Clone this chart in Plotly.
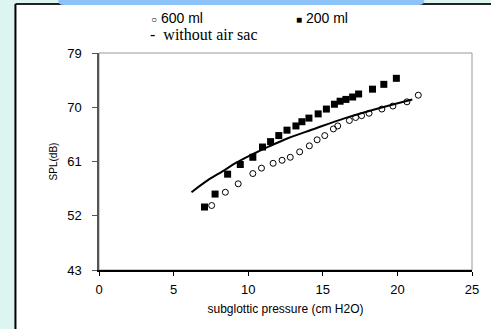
import plotly.graph_objects as go

# 600 ml (open circles)
x600 = [7.55, 8.47, 9.33, 10.31, 10.89, 11.67, 12.27, 12.82, 13.45, 14.1, 14.62,
        15.13, 15.71, 16.0, 16.78, 17.2, 17.6, 18.1, 18.96, 19.7, 20.64, 21.4]
y600 = [53.7, 55.9, 57.3, 59.0, 59.9, 60.7, 61.2, 61.7, 62.6, 63.6, 64.6,
        65.3, 66.4, 66.9, 67.8, 68.3, 68.6, 69.0, 69.7, 70.2, 70.9, 72.0]

# 200 ml (filled squares)
x200 = [7.07, 7.78, 8.62, 9.47, 10.31, 10.96, 11.5, 12.05, 12.6, 13.2, 13.6,
        14.07, 14.69, 15.24, 15.78, 16.16, 16.55, 17.0, 17.4, 18.33, 19.09, 19.93]
y200 = [53.45, 55.6, 58.9, 60.5, 61.7, 63.4, 64.3, 65.3, 66.2, 66.9, 67.6,
        68.2, 68.9, 69.7, 70.5, 71.0, 71.3, 71.7, 72.2, 73.0, 73.8, 74.8]

# without air sac (line)
xno = [6.2, 7.3, 8.3, 9.2, 10.3, 11.4, 12.7, 14.3, 16.5, 18.7, 21.0]
yno = [55.9, 57.9, 59.4, 60.8, 62.2, 63.5, 64.9, 66.3, 68.2, 69.8, 71.3]

xticks = [0, 5, 10, 15, 20, 25]
yticks = [43, 52, 61, 70, 79]

W, H = 491, 329
L, R, T, B = 99, 17, 53, 59
pw, ph = W - L - R, H - T - B


def px(x):
    return (x - L) / pw


def py(y):
    return (H - B - y) / ph


fig = go.Figure()
fig.add_trace(go.Scatter(x=xno, y=yno, mode="lines", line=dict(color="black", width=2, shape="spline"),
                         name="without air sac"))
fig.add_trace(go.Scatter(x=x600, y=y600, mode="markers",
                         marker=dict(symbol="circle-open", size=6, color="black", line=dict(width=1)),
                         name="600 ml"))
fig.add_trace(go.Scatter(x=x200, y=y200, mode="markers",
                         marker=dict(symbol="square", size=7, color="black"),
                         name="200 ml"))

shapes = [
    # white page
    dict(type="rect", xref="paper", yref="paper", x0=px(15), x1=px(495), y0=py(335), y1=py(4),
         fillcolor="white", line=dict(width=0), layer="below"),
    dict(type="line", xref="paper", yref="paper", x0=px(15), x1=px(15), y0=py(335), y1=py(4),
         line=dict(color="black", width=2)),
    dict(type="line", xref="paper", yref="paper", x0=px(15), x1=px(495), y0=py(4), y1=py(4),
         line=dict(color="#222", width=2)),
    # blue banner
    dict(type="path", xref="paper", yref="paper",
         path=f"M {px(58)} {py(-5)} L {px(58)} {py(1)} Q {px(58)} {py(5)} {px(64)} {py(5)} "
              f"L {px(420)} {py(5)} Q {px(426)} {py(5)} {px(426)} {py(1)} L {px(426)} {py(-5)} Z",
         fillcolor="#8cc4fa", line=dict(width=0)),
    # plot frame
    dict(type="rect", xref="paper", yref="paper", x0=0, x1=1, y0=0, y1=1,
         line=dict(color="#999", width=1), layer="below"),
]

annotations = [
    dict(xref="paper", yref="paper", x=px(149), y=py(18), xanchor="left", yanchor="middle",
         text="<span style='font-size:10px'>○</span> 600 ml", showarrow=False,
         font=dict(family="Liberation Sans, Arial", size=14, color="black")),
    dict(xref="paper", yref="paper", x=px(295), y=py(18), xanchor="left", yanchor="middle",
         text="<span style='font-size:10px'>■</span> 200 ml", showarrow=False,
         font=dict(family="Liberation Sans, Arial", size=14, color="black")),
    dict(xref="paper", yref="paper", x=px(148), y=py(34), xanchor="left", yanchor="middle",
         text="-  without air sac", showarrow=False,
         font=dict(family="Liberation Serif, Times New Roman", size=16, color="black")),
]

fig.update_layout(
    width=W, height=H,
    margin=dict(l=L, r=R, t=T, b=B),
    paper_bgcolor="#ddf5f0",
    plot_bgcolor="white",
    showlegend=False,
    shapes=shapes,
    annotations=annotations,
    font=dict(family="Liberation Sans, Arial", size=11, color="black"),
)
fig.update_xaxes(range=[0, 25], tickvals=xticks, showgrid=False, zeroline=False,
                 showline=True, linecolor="black", linewidth=1.5,
                 ticks="outside", ticklen=4, tickcolor="black",
                 tickfont=dict(size=13), ticklabelstandoff=3,
                 title=dict(text="subglottic pressure (cm H2O)", font=dict(size=12), standoff=8))
fig.update_yaxes(range=[43, 79], tickvals=yticks, showgrid=False, zeroline=False,
                 showline=True, linecolor="#555", linewidth=1.5,
                 ticks="outside", ticklen=5, tickcolor="#555",
                 tickfont=dict(size=13), ticklabelstandoff=8,
                 title=dict(text="SPL(dB)", font=dict(size=10), standoff=8))

fig.write_html("out.html", config={"displayModeBar": False},
               post_script="document.body.style.margin='0';document.body.style.overflow='hidden';")
